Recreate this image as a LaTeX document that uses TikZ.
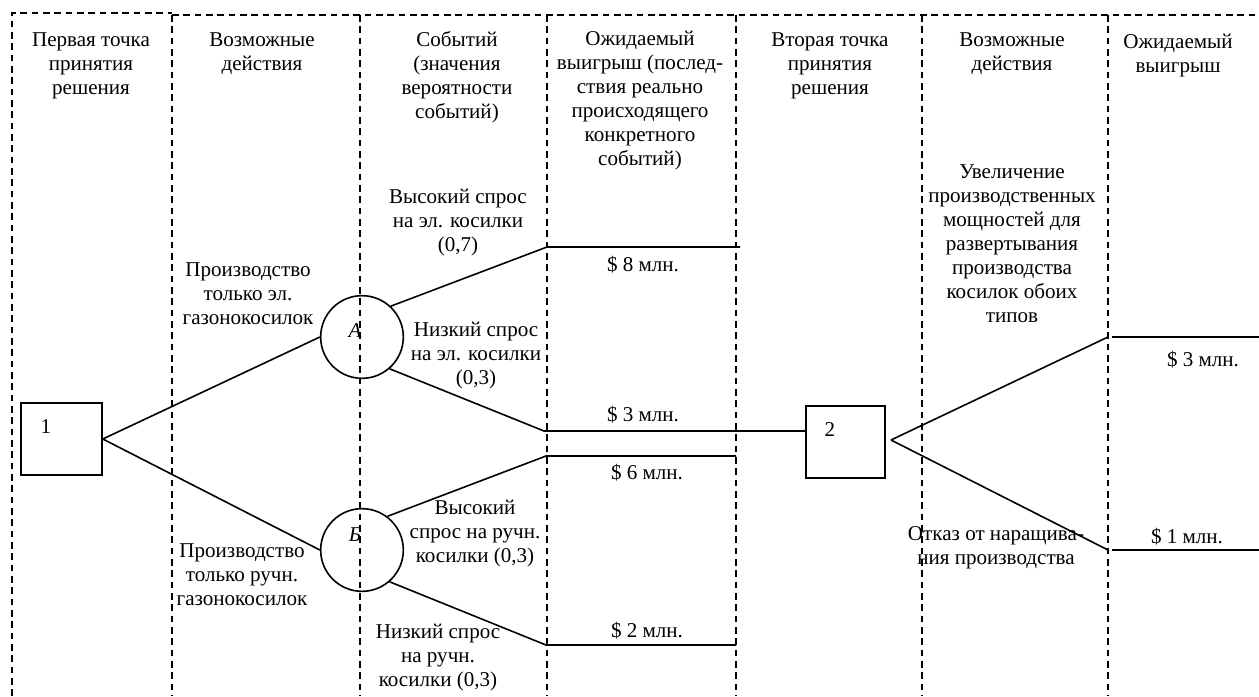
\documentclass[tikz,border=0pt]{standalone}
\usepackage{fontspec}
\setmainfont{Liberation Serif}
\begin{document}
\begin{tikzpicture}[x=0.75pt,y=-0.75pt,
  col/.style={line width=1.1pt, dash pattern=on 5pt off 3.5pt},
  edge/.style={line width=1.2pt},
  txt/.style={inner sep=0pt, anchor=base, align=center, font=\fontsize{15.8}{18}\selectfont},
  decbox/.style={draw, line width=1.2pt, rectangle, inner sep=0pt, minimum height=54pt},
  chance/.style={draw, line width=1.2pt, circle, inner sep=0pt, minimum size=62pt}]
\useasboundingbox (0,0) rectangle (1259,696);
% column frames
\draw[col] (12,696) -- (12,13) -- (172,13);
\draw[col] (172,15) -- (1259,15);
\foreach \x in {172,360,547,736,922,1108} \draw[col] (\x,15) -- (\x,696);
% headers (anchor = baseline of last line)
\node[txt] (h1) at (91,94) {Первая точка\\принятия\\решения};
\node[txt] (h2) at (262,70) {Возможные\\действия};
\node[txt] (h3) at (457,118) {Событий\\(значения\\вероятности\\событий)};
\node[txt] (h4) at (640,165) {Ожидаемый\\выигрыш (послед-\\ствия реально\\происходящего\\конкретного\\событий)};
\node[txt] (h5) at (830,94) {Вторая точка\\принятия\\решения};
\node[txt] (h6) at (1012,70) {Возможные\\действия};
\node[txt] (h7) at (1178,72.5) {Ожидаемый\\выигрыш};
% decision and chance nodes
\node[decbox, minimum width=60.75pt] (d1) at (61.5,439) {};
\node[txt] (d1l) at (46,433) {1};
\node[decbox, minimum width=59.25pt] (d2) at (845.5,442) {};
\node[txt] (d2l) at (830,436) {2};
\node[chance] (A) at (362,337) {};
\node[txt, font=\fontsize{15.8}{18}\selectfont\itshape] (Al) at (355,337) {А};
\node[chance] (B) at (362,550) {};
\node[txt, font=\fontsize{15.8}{18}\selectfont\itshape] (Bl) at (355,541) {Б};
% coordinates
\coordinate (p8a) at (547,247);  \coordinate (p8b) at (740,247);
\coordinate (p3a) at (544,431);
\coordinate (p6a) at (546,456);  \coordinate (p6b) at (736,456);
\coordinate (p2a) at (546,645);  \coordinate (p2b) at (736,645);
\coordinate (apex2) at (891,440);
\coordinate (q3a) at (1108,337); \coordinate (q3b) at (1112,337); \coordinate (q3c) at (1259,337);
\coordinate (q1a) at (1108,550); \coordinate (q1b) at (1112,550); \coordinate (q1c) at (1259,550);
% connectors
\draw[edge] (d1.east) -- (A.west);
\draw[edge] (d1.east) -- (B.west);
\draw[edge] (A.47) -- (p8a) -- (p8b);
\draw[edge] (A.-49) -- (p3a) -- (p3a -| d2.west);
\draw[edge] (B.53) -- (p6a) -- (p6b);
\draw[edge] (B.-49) -- (p2a) -- (p2b);
\draw[edge] (apex2) -- (q3a);
\draw[edge] (q3b) -- (q3c);
\draw[edge] (apex2) -- (q1a);
\draw[edge] (q1b) -- (q1c);
% labels
\node[txt] (a1) at (248,324) {Производство\\только эл.\\газонокосилок};
\node[txt] (a2) at (242,605) {Производство\\только ручн.\\газонокосилок};
\node[txt] (e1) at (458,251) {Высокий спрос\\на эл. косилки\\(0,7)};
\node[txt] (e2) at (476,384) {Низкий спрос\\на эл. косилки\\(0,3)};
\node[txt] (e3) at (475,562) {Высокий\\спрос на ручн.\\косилки (0,3)};
\node[txt] (e4) at (438,686) {Низкий спрос\\на ручн.\\косилки (0,3)};
\node[txt] (v8) at (643,271) {\$ 8 млн.};
\node[txt] (v3) at (643,421) {\$ 3 млн.};
\node[txt] (v6) at (647,479) {\$ 6 млн.};
\node[txt] (v2) at (647,637) {\$ 2 млн.};
\node[txt] (c1) at (1012,322) {Увеличение\\производственных\\мощностей для\\развертывания\\производства\\косилок обоих\\типов};
\node[txt] (c2) at (996,564) {Отказ от наращива-\\ния производства};
\node[txt] (w3) at (1203,366) {\$ 3 млн.};
\node[txt] (w1) at (1187,543) {\$ 1 млн.};
\end{tikzpicture}
\end{document}
